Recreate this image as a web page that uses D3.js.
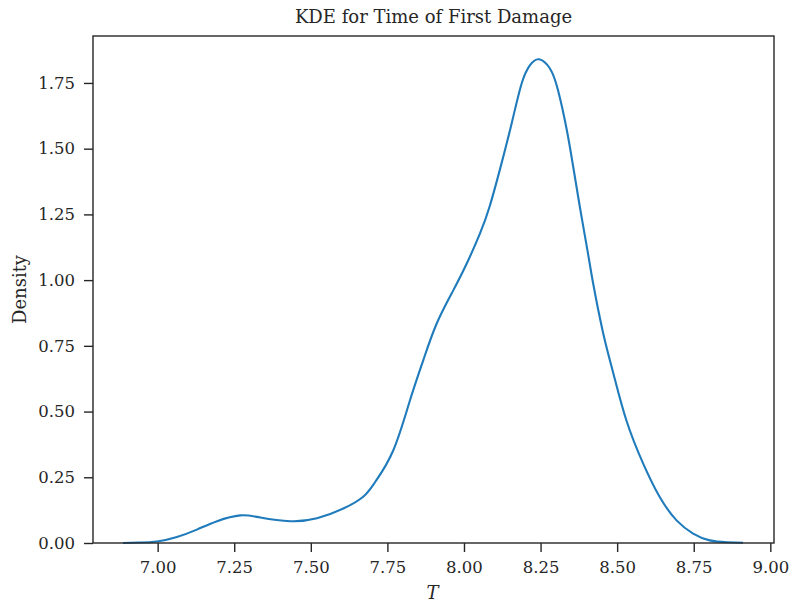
<!DOCTYPE html>
<html>
<head>
<meta charset="utf-8">
<script src="https://cdn.jsdelivr.net/npm/d3@7"></script>
<style>
  body { margin: 0; background: #fff; }
  svg text { font-family: "DejaVu Serif", serif; fill: #262626; }
</style>
</head>
<body>
<svg id="chart" width="791" height="603"></svg>
<script>
// Kernel density estimate of the time of first damage
const timeT = [6.887, 6.940, 6.998, 7.063, 7.128, 7.194, 7.270, 7.335, 7.433, 7.520, 7.606,
  7.671, 7.710, 7.769, 7.823, 7.867, 7.911, 7.965, 8.009, 8.052, 8.085,
  8.123, 8.156, 8.188, 8.215, 8.245, 8.281, 8.307, 8.335, 8.356, 8.378,
  8.405, 8.422, 8.454, 8.487, 8.530, 8.585, 8.639, 8.694, 8.748, 8.802, 8.860, 8.911];
const density = [0.000, 0.002, 0.006, 0.023, 0.051, 0.083, 0.105, 0.097, 0.083, 0.094, 0.131,
  0.176, 0.232, 0.352, 0.540, 0.695, 0.835, 0.961, 1.063, 1.177, 1.285,
  1.446, 1.598, 1.747, 1.817, 1.840, 1.804, 1.722, 1.575, 1.435, 1.280,
  1.100, 0.985, 0.800, 0.648, 0.467, 0.302, 0.175, 0.086, 0.036, 0.010, 0.003, 0.001];
const xTicks = [7.00, 7.25, 7.50, 7.75, 8.00, 8.25, 8.50, 8.75, 9.00];
const yTicks = [0.00, 0.25, 0.50, 0.75, 1.00, 1.25, 1.50, 1.75];

const svg = d3.select("#chart");
const margin = { left: 93, right: 17, top: 36, bottom: 60 };
const W = 791, H = 603;
const x = d3.scaleLinear().domain([6.789, 9.012]).range([margin.left, W - margin.right]);
const y = d3.scaleLinear().domain([0, 1.9286]).range([H - margin.bottom, margin.top]);

// density curve
const line = d3.line().x((d, i) => x(timeT[i])).y(d => y(Math.max(0, d))).curve(d3.curveNatural);
svg.append("path").datum(density)
  .attr("d", line)
  .attr("fill", "none")
  .attr("stroke", "#1f7bbb")
  .attr("stroke-width", 2.1);

// frame
svg.append("rect")
  .attr("x", margin.left).attr("y", margin.top)
  .attr("width", W - margin.right - margin.left)
  .attr("height", H - margin.bottom - margin.top)
  .attr("fill", "none").attr("stroke", "#262626").attr("stroke-width", 1.4);

// axes
const xAxis = d3.axisBottom(x).tickValues(xTicks).tickFormat(d3.format(".2f")).tickSize(9).tickPadding(9);
const gx = svg.append("g").attr("transform", `translate(0,${H - margin.bottom})`).call(xAxis);
const yAxis = d3.axisLeft(y).tickValues(yTicks).tickFormat(d3.format(".2f")).tickSize(9).tickPadding(9);
const gy = svg.append("g").attr("transform", `translate(${margin.left},0)`).call(yAxis);
[gx, gy].forEach(g => {
  g.select(".domain").remove();
  g.selectAll(".tick line").attr("stroke", "#262626").attr("stroke-width", 1.4);
  g.selectAll(".tick text").attr("font-size", 16.5).style("fill", "#262626")
    .attr("font-family", "DejaVu Serif");
});

// labels
const cx = (margin.left + W - margin.right) / 2;
svg.append("text").attr("x", cx).attr("y", 23).attr("text-anchor", "middle")
  .attr("font-size", 18).text("KDE for Time of First Damage");
svg.append("text").attr("x", cx - 1).attr("y", 598.5).attr("text-anchor", "middle")
  .attr("font-size", 18).attr("font-style", "italic").attr("font-family", "DejaVu Sans").text("T");
svg.append("text").attr("transform", `translate(25.5,${(margin.top + H - margin.bottom) / 2}) rotate(-90)`)
  .attr("text-anchor", "middle").attr("font-size", 18).text("Density");
</script>
</body>
</html>
